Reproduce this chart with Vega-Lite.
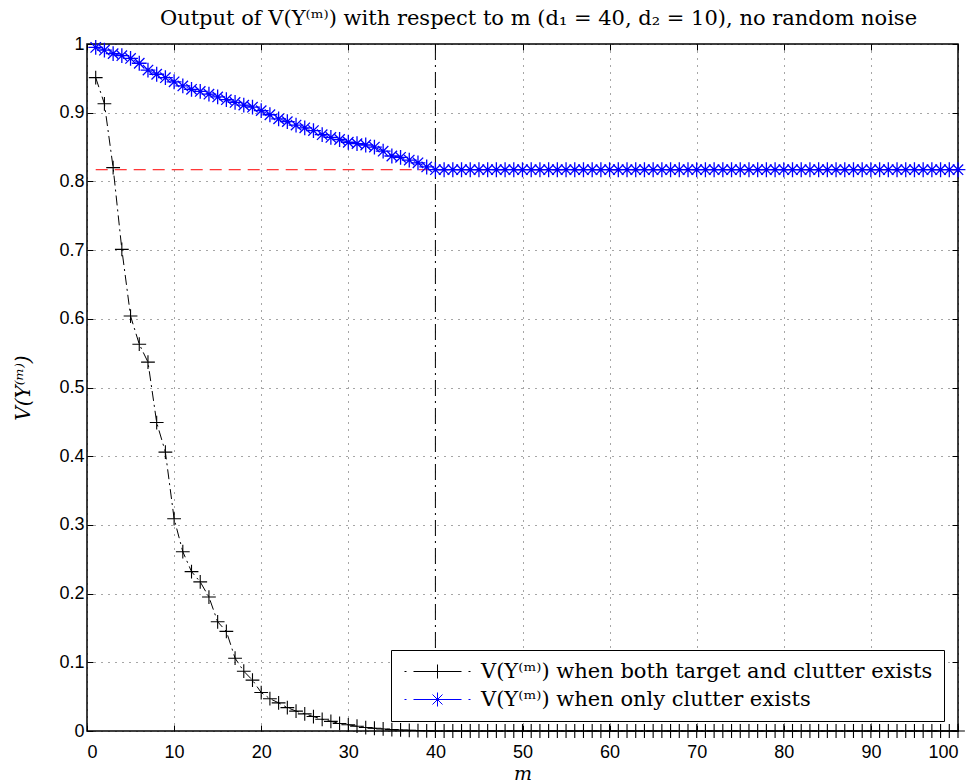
{
  "$schema": "https://vega.github.io/schema/vega-lite/v6.json",
  "autosize": {"type": "none"},
  "padding": {"left": 87, "top": 44, "right": 22, "bottom": 51},
  "width": 871,
  "height": 687,
  "background": "white",
  "title": {
    "text": "Output of V(Y⁽ᵐ⁾) with respect to m (d₁ = 40, d₂ = 10), no random noise",
    "font": "DejaVu Serif",
    "fontSize": 21,
    "fontWeight": "normal",
    "color": "#000",
    "anchor": "middle",
    "dx": 16,
    "offset": 6
  },
  "config": {
    "view": {"stroke": "#000", "strokeWidth": 1.5},
    "axis": {"labelColor": "#000", "tickColor": "#000", "titleColor": "#000"}
  },
  "datasets": {
    "main": [
      {"m":1,"v":0.951,"s":"b"},{"m":2,"v":0.913,"s":"b"},{"m":3,"v":0.820,"s":"b"},{"m":4,"v":0.701,"s":"b"},{"m":5,"v":0.604,"s":"b"},
      {"m":6,"v":0.563,"s":"b"},{"m":7,"v":0.537,"s":"b"},{"m":8,"v":0.449,"s":"b"},{"m":9,"v":0.406,"s":"b"},{"m":10,"v":0.309,"s":"b"},
      {"m":11,"v":0.261,"s":"b"},{"m":12,"v":0.232,"s":"b"},{"m":13,"v":0.217,"s":"b"},{"m":14,"v":0.195,"s":"b"},{"m":15,"v":0.159,"s":"b"},
      {"m":16,"v":0.145,"s":"b"},{"m":17,"v":0.106,"s":"b"},{"m":18,"v":0.087,"s":"b"},{"m":19,"v":0.074,"s":"b"},{"m":20,"v":0.056,"s":"b"},
      {"m":21,"v":0.047,"s":"b"},{"m":22,"v":0.041,"s":"b"},{"m":23,"v":0.034,"s":"b"},{"m":24,"v":0.029,"s":"b"},{"m":25,"v":0.025,"s":"b"},
      {"m":26,"v":0.021,"s":"b"},{"m":27,"v":0.017,"s":"b"},{"m":28,"v":0.014,"s":"b"},{"m":29,"v":0.011,"s":"b"},{"m":30,"v":0.009,"s":"b"},
      {"m":31,"v":0.007,"s":"b"},{"m":32,"v":0.005,"s":"b"},{"m":33,"v":0.004,"s":"b"},{"m":34,"v":0.003,"s":"b"},{"m":35,"v":0.002,"s":"b"},
      {"m":36,"v":0.0015,"s":"b"},{"m":37,"v":0.001,"s":"b"},{"m":38,"v":0.0007,"s":"b"},{"m":39,"v":0.0003,"s":"b"},{"m":40,"v":0,"s":"b"},
      {"m":41,"v":0,"s":"b"},{"m":42,"v":0,"s":"b"},{"m":43,"v":0,"s":"b"},{"m":44,"v":0,"s":"b"},{"m":45,"v":0,"s":"b"},
      {"m":46,"v":0,"s":"b"},{"m":47,"v":0,"s":"b"},{"m":48,"v":0,"s":"b"},{"m":49,"v":0,"s":"b"},{"m":50,"v":0,"s":"b"},
      {"m":51,"v":0,"s":"b"},{"m":52,"v":0,"s":"b"},{"m":53,"v":0,"s":"b"},{"m":54,"v":0,"s":"b"},{"m":55,"v":0,"s":"b"},
      {"m":56,"v":0,"s":"b"},{"m":57,"v":0,"s":"b"},{"m":58,"v":0,"s":"b"},{"m":59,"v":0,"s":"b"},{"m":60,"v":0,"s":"b"},
      {"m":61,"v":0,"s":"b"},{"m":62,"v":0,"s":"b"},{"m":63,"v":0,"s":"b"},{"m":64,"v":0,"s":"b"},{"m":65,"v":0,"s":"b"},
      {"m":66,"v":0,"s":"b"},{"m":67,"v":0,"s":"b"},{"m":68,"v":0,"s":"b"},{"m":69,"v":0,"s":"b"},{"m":70,"v":0,"s":"b"},
      {"m":71,"v":0,"s":"b"},{"m":72,"v":0,"s":"b"},{"m":73,"v":0,"s":"b"},{"m":74,"v":0,"s":"b"},{"m":75,"v":0,"s":"b"},
      {"m":76,"v":0,"s":"b"},{"m":77,"v":0,"s":"b"},{"m":78,"v":0,"s":"b"},{"m":79,"v":0,"s":"b"},{"m":80,"v":0,"s":"b"},
      {"m":81,"v":0,"s":"b"},{"m":82,"v":0,"s":"b"},{"m":83,"v":0,"s":"b"},{"m":84,"v":0,"s":"b"},{"m":85,"v":0,"s":"b"},
      {"m":86,"v":0,"s":"b"},{"m":87,"v":0,"s":"b"},{"m":88,"v":0,"s":"b"},{"m":89,"v":0,"s":"b"},{"m":90,"v":0,"s":"b"},
      {"m":91,"v":0,"s":"b"},{"m":92,"v":0,"s":"b"},{"m":93,"v":0,"s":"b"},{"m":94,"v":0,"s":"b"},{"m":95,"v":0,"s":"b"},
      {"m":96,"v":0,"s":"b"},{"m":97,"v":0,"s":"b"},{"m":98,"v":0,"s":"b"},{"m":99,"v":0,"s":"b"},{"m":100,"v":0,"s":"b"},
      {"m":1,"v":0.995,"s":"o"},{"m":2,"v":0.991,"s":"o"},{"m":3,"v":0.986,"s":"o"},{"m":4,"v":0.983,"s":"o"},{"m":5,"v":0.979,"s":"o"},
      {"m":6,"v":0.972,"s":"o"},{"m":7,"v":0.962,"s":"o"},{"m":8,"v":0.956,"s":"o"},{"m":9,"v":0.951,"s":"o"},{"m":10,"v":0.945,"s":"o"},
      {"m":11,"v":0.939,"s":"o"},{"m":12,"v":0.934,"s":"o"},{"m":13,"v":0.931,"s":"o"},{"m":14,"v":0.927,"s":"o"},{"m":15,"v":0.923,"s":"o"},
      {"m":16,"v":0.919,"s":"o"},{"m":17,"v":0.915,"s":"o"},{"m":18,"v":0.911,"s":"o"},{"m":19,"v":0.908,"s":"o"},{"m":20,"v":0.903,"s":"o"},
      {"m":21,"v":0.897,"s":"o"},{"m":22,"v":0.891,"s":"o"},{"m":23,"v":0.887,"s":"o"},{"m":24,"v":0.882,"s":"o"},{"m":25,"v":0.878,"s":"o"},
      {"m":26,"v":0.874,"s":"o"},{"m":27,"v":0.868,"s":"o"},{"m":28,"v":0.864,"s":"o"},{"m":29,"v":0.861,"s":"o"},{"m":30,"v":0.857,"s":"o"},
      {"m":31,"v":0.855,"s":"o"},{"m":32,"v":0.853,"s":"o"},{"m":33,"v":0.850,"s":"o"},{"m":34,"v":0.844,"s":"o"},{"m":35,"v":0.837,"s":"o"},
      {"m":36,"v":0.835,"s":"o"},{"m":37,"v":0.831,"s":"o"},{"m":38,"v":0.827,"s":"o"},{"m":39,"v":0.821,"s":"o"},{"m":40,"v":0.817,"s":"o"},
      {"m":41,"v":0.817,"s":"o"},{"m":42,"v":0.817,"s":"o"},{"m":43,"v":0.817,"s":"o"},{"m":44,"v":0.817,"s":"o"},{"m":45,"v":0.817,"s":"o"},
      {"m":46,"v":0.817,"s":"o"},{"m":47,"v":0.817,"s":"o"},{"m":48,"v":0.817,"s":"o"},{"m":49,"v":0.817,"s":"o"},{"m":50,"v":0.817,"s":"o"},
      {"m":51,"v":0.817,"s":"o"},{"m":52,"v":0.817,"s":"o"},{"m":53,"v":0.817,"s":"o"},{"m":54,"v":0.817,"s":"o"},{"m":55,"v":0.817,"s":"o"},
      {"m":56,"v":0.817,"s":"o"},{"m":57,"v":0.817,"s":"o"},{"m":58,"v":0.817,"s":"o"},{"m":59,"v":0.817,"s":"o"},{"m":60,"v":0.817,"s":"o"},
      {"m":61,"v":0.817,"s":"o"},{"m":62,"v":0.817,"s":"o"},{"m":63,"v":0.817,"s":"o"},{"m":64,"v":0.817,"s":"o"},{"m":65,"v":0.817,"s":"o"},
      {"m":66,"v":0.817,"s":"o"},{"m":67,"v":0.817,"s":"o"},{"m":68,"v":0.817,"s":"o"},{"m":69,"v":0.817,"s":"o"},{"m":70,"v":0.817,"s":"o"},
      {"m":71,"v":0.817,"s":"o"},{"m":72,"v":0.817,"s":"o"},{"m":73,"v":0.817,"s":"o"},{"m":74,"v":0.817,"s":"o"},{"m":75,"v":0.817,"s":"o"},
      {"m":76,"v":0.817,"s":"o"},{"m":77,"v":0.817,"s":"o"},{"m":78,"v":0.817,"s":"o"},{"m":79,"v":0.817,"s":"o"},{"m":80,"v":0.817,"s":"o"},
      {"m":81,"v":0.817,"s":"o"},{"m":82,"v":0.817,"s":"o"},{"m":83,"v":0.817,"s":"o"},{"m":84,"v":0.817,"s":"o"},{"m":85,"v":0.817,"s":"o"},
      {"m":86,"v":0.817,"s":"o"},{"m":87,"v":0.817,"s":"o"},{"m":88,"v":0.817,"s":"o"},{"m":89,"v":0.817,"s":"o"},{"m":90,"v":0.817,"s":"o"},
      {"m":91,"v":0.817,"s":"o"},{"m":92,"v":0.817,"s":"o"},{"m":93,"v":0.817,"s":"o"},{"m":94,"v":0.817,"s":"o"},{"m":95,"v":0.817,"s":"o"},
      {"m":96,"v":0.817,"s":"o"},{"m":97,"v":0.817,"s":"o"},{"m":98,"v":0.817,"s":"o"},{"m":99,"v":0.817,"s":"o"},{"m":100,"v":0.817,"s":"o"}
    ],
    "ref": [{"m1": 1, "m2": 100, "v": 0.817}],
    "vline": [{"m": 40}]
  },
  "layer": [
    {
      "data": {"name": "ref"},
      "mark": {"type": "rule", "color": "#ff0000", "strokeDash": [12, 7], "strokeWidth": 1},
      "encoding": {
        "x": {"field": "m1", "type": "quantitative", "scale": {"domain": [0, 100], "nice": false},
              "axis": {"orient": "top", "labels": false, "grid": false, "domain": false, "tickSize": -6, "title": null, "values": [0,10,20,30,40,50,60,70,80,90,100]}},
        "x2": {"field": "m2"},
        "y": {"field": "v", "type": "quantitative", "scale": {"domain": [0, 1], "nice": false},
              "axis": {"orient": "right", "labels": false, "grid": false, "domain": false, "tickSize": -6, "title": null, "values": [0,0.1,0.2,0.3,0.4,0.5,0.6,0.7,0.8,0.9,1]}}
      }
    },
    {
      "data": {"name": "vline"},
      "mark": {"type": "rule", "color": "#000", "strokeDash": [16, 5, 2, 5], "strokeWidth": 1},
      "encoding": {
        "x": {"field": "m", "type": "quantitative", "axis": null}
      }
    },
    {
      "data": {"name": "main"},
      "mark": {"type": "line", "strokeDash": [10, 4, 2, 4], "strokeWidth": 1},
      "encoding": {
        "x": {"field": "m", "type": "quantitative",
              "axis": {"orient": "bottom", "values": [0,10,20,30,40,50,60,70,80,90,100], "title": "m",
                       "titleFont": "DejaVu Serif", "titleFontStyle": "italic", "titleFontWeight": "normal", "titleFontSize": 19, "titlePadding": 3,
                       "labelFont": "Liberation Sans", "labelFontSize": 18, "tickSize": -6, "labelPadding": 18,
                       "grid": true, "gridDash": [1, 6], "gridColor": "#000", "gridOpacity": 0.7, "domain": false}},
        "y": {"field": "v", "type": "quantitative",
              "axis": {"orient": "left", "values": [0,0.1,0.2,0.3,0.4,0.5,0.6,0.7,0.8,0.9,1], "format": "~g", "title": "V(Y⁽ᵐ⁾)",
                       "titleFont": "DejaVu Serif", "titleFontStyle": "italic", "titleFontWeight": "normal", "titleFontSize": 20, "titlePadding": 25,
                       "labelFont": "Liberation Sans", "labelFontSize": 18, "tickSize": -6, "labelPadding": 9,
                       "grid": true, "gridDash": [1, 6], "gridColor": "#000", "gridOpacity": 0.7, "domain": false}},
        "color": {"field": "s", "type": "nominal", "scale": {"domain": ["b", "o"], "range": ["#000000", "#0000ff"]}},
        "detail": {"field": "s"}
      }
    },
    {
      "data": {"name": "main"},
      "transform": [{"filter": "datum.s === 'b'"}],
      "mark": {"type": "point", "filled": false, "size": 190, "strokeWidth": 1.1, "opacity": 1, "color": "#000000",
               "shape": "M-1,0H1M0,-1V1"},
      "encoding": {
        "x": {"field": "m", "type": "quantitative", "axis": null},
        "y": {"field": "v", "type": "quantitative", "axis": null}
      }
    },
    {
      "data": {"name": "main"},
      "transform": [{"filter": "datum.s === 'o'"}],
      "mark": {"type": "point", "filled": false, "size": 220, "strokeWidth": 1.3, "opacity": 1, "color": "#0000ff",
               "shape": "M-1,0H1M0,-1V1M-0.7,-0.7L0.7,0.7M-0.7,0.7L0.7,-0.7"},
      "encoding": {
        "x": {"field": "m", "type": "quantitative", "axis": null},
        "y": {"field": "v", "type": "quantitative", "axis": null}
      }
    },
    {
      "data": {"name": "main"},
      "mark": {"type": "point", "filled": false, "size": 400, "strokeWidth": 1, "opacity": 0},
      "encoding": {
        "x": {"field": "m", "type": "quantitative", "axis": null},
        "y": {"field": "v", "type": "quantitative", "axis": null},
        "color": {"field": "s", "type": "nominal",
                  "legend": {"orient": "none", "legendX": 304, "legendY": 606, "title": null,
                             "fillColor": "white", "strokeColor": "#000", "padding": 11,
                             "labelFont": "DejaVu Serif", "labelFontSize": 21, "labelColor": "#000", "labelLimit": 700,
                             "symbolSize": 400, "symbolOffset": 25, "labelOffset": 33, "rowPadding": 6, "symbolStrokeWidth": 1, "symbolOpacity": 1,
                             "labelExpr": "datum.value === 'b' ? 'V(Y⁽ᵐ⁾) when both target and clutter exists' : 'V(Y⁽ᵐ⁾) when only clutter exists'"}},
        "shape": {"field": "s", "type": "nominal",
                  "scale": {"domain": ["b", "o"], "range": ["M-3.3,0H-3.1M-2.4,0H2.4M0,-0.7V0.7M3.1,0H3.3", "M-3.3,0H-3.1M-2.4,0H2.4M0,-0.7V0.7M-0.5,-0.5L0.5,0.5M-0.5,0.5L0.5,-0.5M3.1,0H3.3"]}}
      }
    }
  ],
  "resolve": {"axis": {"x": "independent", "y": "independent"}}
}
